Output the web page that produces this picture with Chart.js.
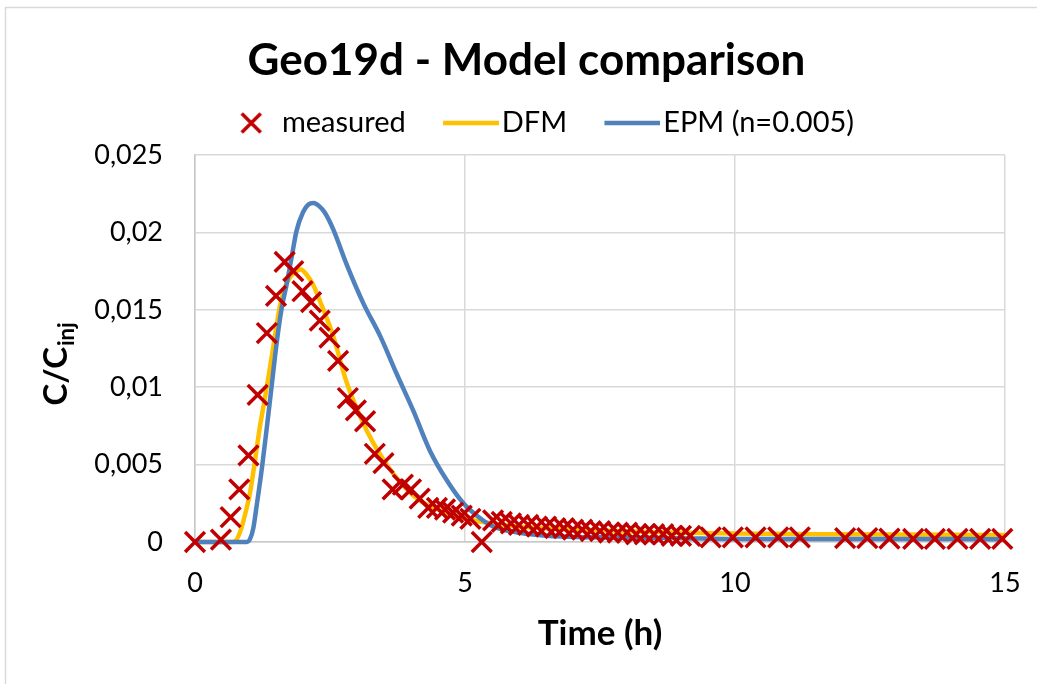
<!DOCTYPE html>
<html><head><meta charset="utf-8">
<script src="https://cdn.jsdelivr.net/npm/chart.js@4"></script>
<style>html,body{margin:0;padding:0;background:#fff;}#wrap{width:1037px;height:684px;}</style>
</head><body><div id="wrap"><canvas id="c" width="1037" height="684"></canvas></div>
<script>
// ---- data ----
const measuredTime = [0,0.48,0.66,0.82,0.99,1.16,1.33,1.5,1.66,1.82,1.99,2.15,2.31,2.49,2.65,2.83,2.98,3.15,3.33,3.49,3.66,3.85,4.0,4.16,4.32,4.48,4.63,4.78,4.94,5.1,5.31,5.52,5.68,5.85,6.0,6.17,6.33,6.5,6.67,6.83,7.0,7.17,7.33,7.5,7.67,7.83,8.0,8.17,8.33,8.5,8.67,8.83,9.0,9.17,9.55,9.96,10.38,10.8,11.2,12.04,12.45,12.86,13.3,13.7,14.12,14.54,14.95];
const measuredC = [0,0.00015,0.0016,0.0034,0.0056,0.0095,0.0135,0.0159,0.0181,0.0175,0.0162,0.0155,0.0143,0.0132,0.0117,0.0093,0.0085,0.0078,0.0057,0.0051,0.0034,0.0037,0.0034,0.0028,0.0022,0.0022,0.0021,0.0019,0.0017,0.0015,0,0.0014,0.0013,0.0012,0.0011,0.0011,0.001,0.001,0.0009,0.0009,0.0008,0.0008,0.0007,0.0007,0.0006,0.0006,0.0006,0.0005,0.0005,0.0005,0.0005,0.0004,0.0004,0.0004,0.0003,0.0003,0.0003,0.0003,0.0003,0.00025,0.00025,0.00022,0.0002,0.0002,0.0002,0.0002,0.0002];
const dfmTime = [0,0.7,0.76,0.85,0.95,1.02,1.1,1.2,1.3,1.39,1.48,1.57,1.66,1.76,1.88,1.96,2.06,2.19,2.31,2.56,2.8,3.06,3.3,3.61,3.92,4.2,4.5,4.8,5.15,5.5,6,7,8,9,10,12,15];
const dfmC = [0,0,0.0001,0.0008,0.0021,0.0032,0.005,0.0074,0.0094,0.0113,0.0133,0.0152,0.0164,0.0171,0.0175,0.0176,0.0173,0.0166,0.0156,0.0133,0.0104,0.0081,0.0064,0.0047,0.0034,0.0026,0.0021,0.0017,0.0014,0.0012,0.001,0.0008,0.0007,0.0006,0.00055,0.0005,0.00045];
const epmTime = [0,0.96,1.02,1.08,1.14,1.24,1.33,1.42,1.51,1.6,1.7,1.8,1.88,2.0,2.1,2.2,2.3,2.4,2.56,2.8,3.12,3.43,3.73,4.04,4.35,4.66,4.97,5.22,5.52,5.83,6.5,7.5,9,10,12,15];
const epmC = [0,0,0.0002,0.0009,0.0023,0.0048,0.0074,0.0101,0.0128,0.015,0.0167,0.0186,0.0201,0.0213,0.0218,0.0219,0.0217,0.0213,0.0202,0.018,0.0154,0.0133,0.0109,0.0085,0.0059,0.004,0.0025,0.0017,0.001,0.0007,0.0004,0.0003,0.00025,0.0002,0.0002,0.00018];
const xTickLabels = ['0','5','10','15'];
const yTickLabels = ['0','0,005','0,01','0,015','0,02','0,025'];
const seriesNames = ['measured','DFM','EPM (n=0.005)'];
const chartTitle = 'Geo19d - Model comparison';
const xTitle = 'Time (h)';
const yTitleMain = 'C/C';
const yTitleSub = 'inj';

const RED = '#c00000', YELLOW = '#ffc000', BLUE = '#4f81bd';
const FONT = 'Lato';
Chart.defaults.font.family = FONT;
Chart.defaults.color = '#000';

const toXY = (xs, ys) => xs.map((x, i) => ({x, y: ys[i]}));

// legend sample images (offset so the mark sits just before the text)
const LEG_W = 68.5, LEG_D = 17.75;
function legendImg(kind, color) {
  const m = kind === 'cross' ? 24 : 56;
  const h = kind === 'cross' ? 24 : 6;
  const c = document.createElement('canvas');
  c.width = Math.round(2 * LEG_D + m); c.height = h;
  const g = c.getContext('2d');
  g.strokeStyle = color;
  const x0 = c.width - m;
  if (kind === 'cross') {
    g.lineWidth = 3.5;
    const cx = x0 + m / 2, cy = h / 2, r = 9.5;
    g.beginPath();
    g.moveTo(cx - r, cy - r); g.lineTo(cx + r, cy + r);
    g.moveTo(cx + r, cy - r); g.lineTo(cx - r, cy + r);
    g.stroke();
  } else {
    g.lineWidth = 4.5;
    g.beginPath(); g.moveTo(x0, h / 2); g.lineTo(x0 + m, h / 2); g.stroke();
  }
  return c;
}
const legendImages = [legendImg('cross', RED), legendImg('line', YELLOW), legendImg('line', BLUE)];

const framePlugin = {
  id: 'frame',
  beforeDraw(chart) {
    const ctx = chart.ctx;
    ctx.save();
    ctx.fillStyle = '#fff';
    ctx.fillRect(0, 0, chart.width, chart.height);
    ctx.strokeStyle = '#d9d9d9';
    ctx.lineWidth = 1.5;
    ctx.beginPath();
    ctx.moveTo(5, 7.5); ctx.lineTo(chart.width, 7.5);
    ctx.moveTo(5.5, 7); ctx.lineTo(5.5, chart.height);
    ctx.stroke();
    ctx.restore();
  }
};

const yTitlePlugin = {
  id: 'ytitle',
  afterDraw(chart) {
    const ctx = chart.ctx;
    ctx.save();
    ctx.fillStyle = '#000';
    ctx.textBaseline = 'alphabetic';
    ctx.textAlign = 'left';
    ctx.font = 'bold 33px ' + FONT;
    const w1 = ctx.measureText(yTitleMain).width;
    ctx.font = 'bold 22px ' + FONT;
    const w2 = ctx.measureText(yTitleSub).width;
    const total = w1 + 1 + w2;
    const cy = 364, bx = 67;
    ctx.translate(bx, cy + total / 2);
    ctx.rotate(-Math.PI / 2);
    ctx.font = 'bold 33px ' + FONT;
    ctx.fillText(yTitleMain, 0, 0);
    ctx.font = 'bold 22px ' + FONT;
    ctx.fillText(yTitleSub, w1 + 1, 7);
    ctx.restore();
  }
};

new Chart(document.getElementById('c'), {
  type: 'line',
  data: {
    datasets: [
      {
        label: seriesNames[0], data: toXY(measuredTime, measuredC), showLine: false,
        pointStyle: 'crossRot', pointRadius: 14, pointHoverRadius: 14,
        borderColor: RED, backgroundColor: RED, pointBorderWidth: 3.5, borderWidth: 3.5,
        order: 0, clip: false
      },
      {
        label: seriesNames[1], data: toXY(dfmTime, dfmC), borderColor: YELLOW, backgroundColor: YELLOW,
        borderWidth: 4.5, pointRadius: 0, cubicInterpolationMode: 'monotone', order: 2, clip: false
      },
      {
        label: seriesNames[2], data: toXY(epmTime, epmC), borderColor: BLUE, backgroundColor: BLUE,
        borderWidth: 4.5, pointRadius: 0, cubicInterpolationMode: 'monotone', order: 1, clip: false
      }
    ]
  },
  options: {
    responsive: false,
    animation: false,
    events: [],
    layout: { padding: { left: 48, right: 32, top: 0, bottom: 0 } },
    plugins: {
      title: {
        display: true, text: chartTitle, color: '#000',
        font: { size: 44, weight: 'bold', lineHeight: 1.2 },
        padding: { top: 34.6, bottom: 8.1 }
      },
      subtitle: {
        display: true, text: '', weight: 500,
        font: { size: 1, lineHeight: 1 }, padding: { top: 0, bottom: 6.5 }
      },
      legend: {
        display: true, position: 'top',
        labels: {
          usePointStyle: true, pointStyleWidth: LEG_W, padding: 13,
          font: { size: 29 }, color: '#000',
          generateLabels: () => seriesNames.map((n, i) => ({
            text: n, pointStyle: legendImages[i], fillStyle: 'transparent',
            strokeStyle: 'transparent', lineWidth: 0, hidden: false, datasetIndex: i, fontColor: '#000'
          }))
        }
      },
      tooltip: { enabled: false }
    },
    scales: {
      x: {
        type: 'linear', min: 0, max: 15,
        afterFit(s) { s.height = 142; },
        ticks: {
          stepSize: 5, padding: 0, font: { size: 27 }, color: '#000',
          callback: (v) => xTickLabels[Math.round(v / 5)]
        },
        grid: { color: '#d9d9d9', lineWidth: 1.5, drawTicks: true, tickLength: 25, tickColor: 'rgba(0,0,0,0)' },
        border: { color: '#c8c8c8', width: 1.5 },
        title: {
          display: true, text: xTitle, color: '#000',
          font: { size: 35, weight: 'bold', lineHeight: 1.2 },
          padding: { top: 0, bottom: 29 }
        }
      },
      y: {
        type: 'linear', min: 0, max: 0.025,
        afterFit(s) { s.width = 147; },
        ticks: {
          stepSize: 0.005, padding: 32, font: { size: 27 }, color: '#000',
          callback: (v) => yTickLabels[Math.round(v / 0.005)]
        },
        grid: { color: '#d9d9d9', lineWidth: 1.5, drawTicks: false },
        border: { color: '#c8c8c8', width: 1.5 }
      }
    }
  },
  plugins: [framePlugin, yTitlePlugin]
});
</script>
</body></html>
